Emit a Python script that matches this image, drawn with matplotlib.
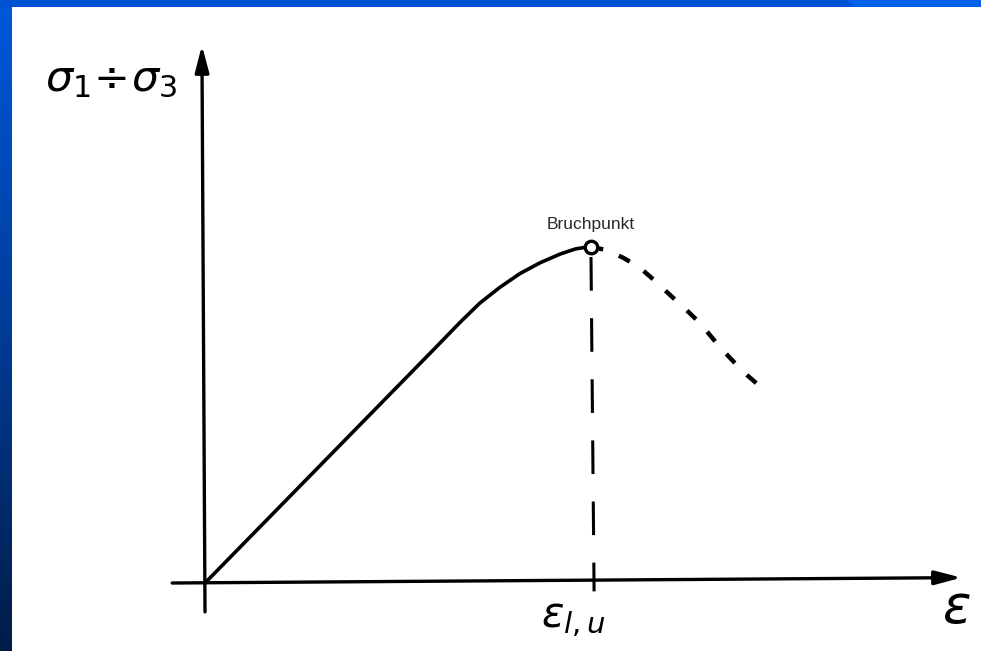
import numpy as np
import matplotlib.pyplot as plt
from matplotlib.patches import Rectangle
from matplotlib.colors import LinearSegmentedColormap

# Spannungs-Dehnungs-Linie (normiert auf den Bruchpunkt)
eps_loading = [0.0, 0.596, 0.661, 0.712, 0.764, 0.816, 0.868, 0.920, 0.959, 0.990, 1.0]
sig_loading = [0.0, 0.699, 0.776, 0.833, 0.880, 0.921, 0.953, 0.979, 0.994, 1.0, 1.0]

eps_softening = [1.0, 1.041, 1.085, 1.127, 1.165, 1.205, 1.245, 1.282, 1.334, 1.370, 1.404, 1.461]
sig_softening = [1.0, 0.991, 0.967, 0.938, 0.900, 0.857, 0.815, 0.774, 0.702, 0.658, 0.619, 0.562]

eps_peak = 1.0
sig_peak = 1.0

W, H = 981, 651
fig = plt.figure(figsize=(W / 100, H / 100), dpi=100, facecolor='white')

# blauer Folienrahmen: Verlauf links, Streifen oben
ax_left = fig.add_axes([0, 0, 12 / W, 1])
grad = np.linspace(0, 1, 256).reshape(-1, 1)
cm_left = LinearSegmentedColormap.from_list('left', ['#0058dc', '#003c98', '#001c48'])
ax_left.imshow(grad, aspect='auto', cmap=cm_left, extent=[0, 1, 0, 1], origin='upper')
ax_left.axis('off')

ax_top = fig.add_axes([0, 1 - 7 / H, 1, 7 / H])
ax_top.set_xlim(0, 1)
ax_top.set_ylim(0, 1)
ax_top.add_patch(Rectangle((0, 0), 1, 1, color='#0052d4'))
ax_top.fill([855 / W, 1, 1, 848 / W], [0, 0, 1, 1], color='#0062e8')
ax_top.axis('off')

# Diagramm
ax = fig.add_axes([12 / W, 0, 1 - 12 / W, 1 - 7 / H], zorder=0)
x0, y0 = 205, 583           # Ursprung in Pixeln
sx, sy = 386.0, 336.0       # Pixel pro Einheit
ax.set_xlim(-(x0 - 12) / sx, (W - x0) / sx)
ax.set_ylim(-(H - y0) / sy, (y0 - 7) / sy)
ax.axis('off')

arrow = dict(arrowstyle='-|>,head_length=1.6,head_width=0.42', color='black',
             lw=2.4, shrinkA=0, shrinkB=0)
ax.annotate('', xy=(-0.008, 1.60), xytext=(0.0, -0.086), arrowprops=arrow)
ax.annotate('', xy=(1.96, 0.016), xytext=(-0.085, 0.0), arrowprops=arrow)

ax.plot(eps_loading, sig_loading, color='black', lw=2.6,
        solid_capstyle='round', solid_joinstyle='round')
ax.plot(eps_softening, sig_softening, color='black', lw=3.2,
        linestyle=(0, (2.8, 3.8)), dash_capstyle='butt')
ax.plot([eps_peak, eps_peak + 0.008], [sig_peak - 0.03, -0.025], color='black',
        lw=2.2, linestyle=(0, (11, 9)))
ax.plot([eps_peak], [sig_peak], marker='o', ms=9, mfc='white', mec='black',
        mew=2.4, zorder=5)

ax.text(eps_peak, sig_peak + 0.045, 'Bruchpunkt', ha='center', va='bottom',
        fontsize=12.5, family='Liberation Sans', color='#2a2a2a')

plt.rcParams['mathtext.fontset'] = 'dejavusans'
ax.text(-0.415, 1.50, r'$\sigma_1\!\div\!\sigma_3$', fontsize=31, ha='left',
        va='center')
ax.text(0.87, -0.105, r'$\varepsilon_{l,u}$', fontsize=30, ha='left', va='center')
ax.text(1.91, -0.075, r'$\varepsilon$', fontsize=38, ha='left', va='center')

fig.savefig('out.png', dpi=100, facecolor='white')
